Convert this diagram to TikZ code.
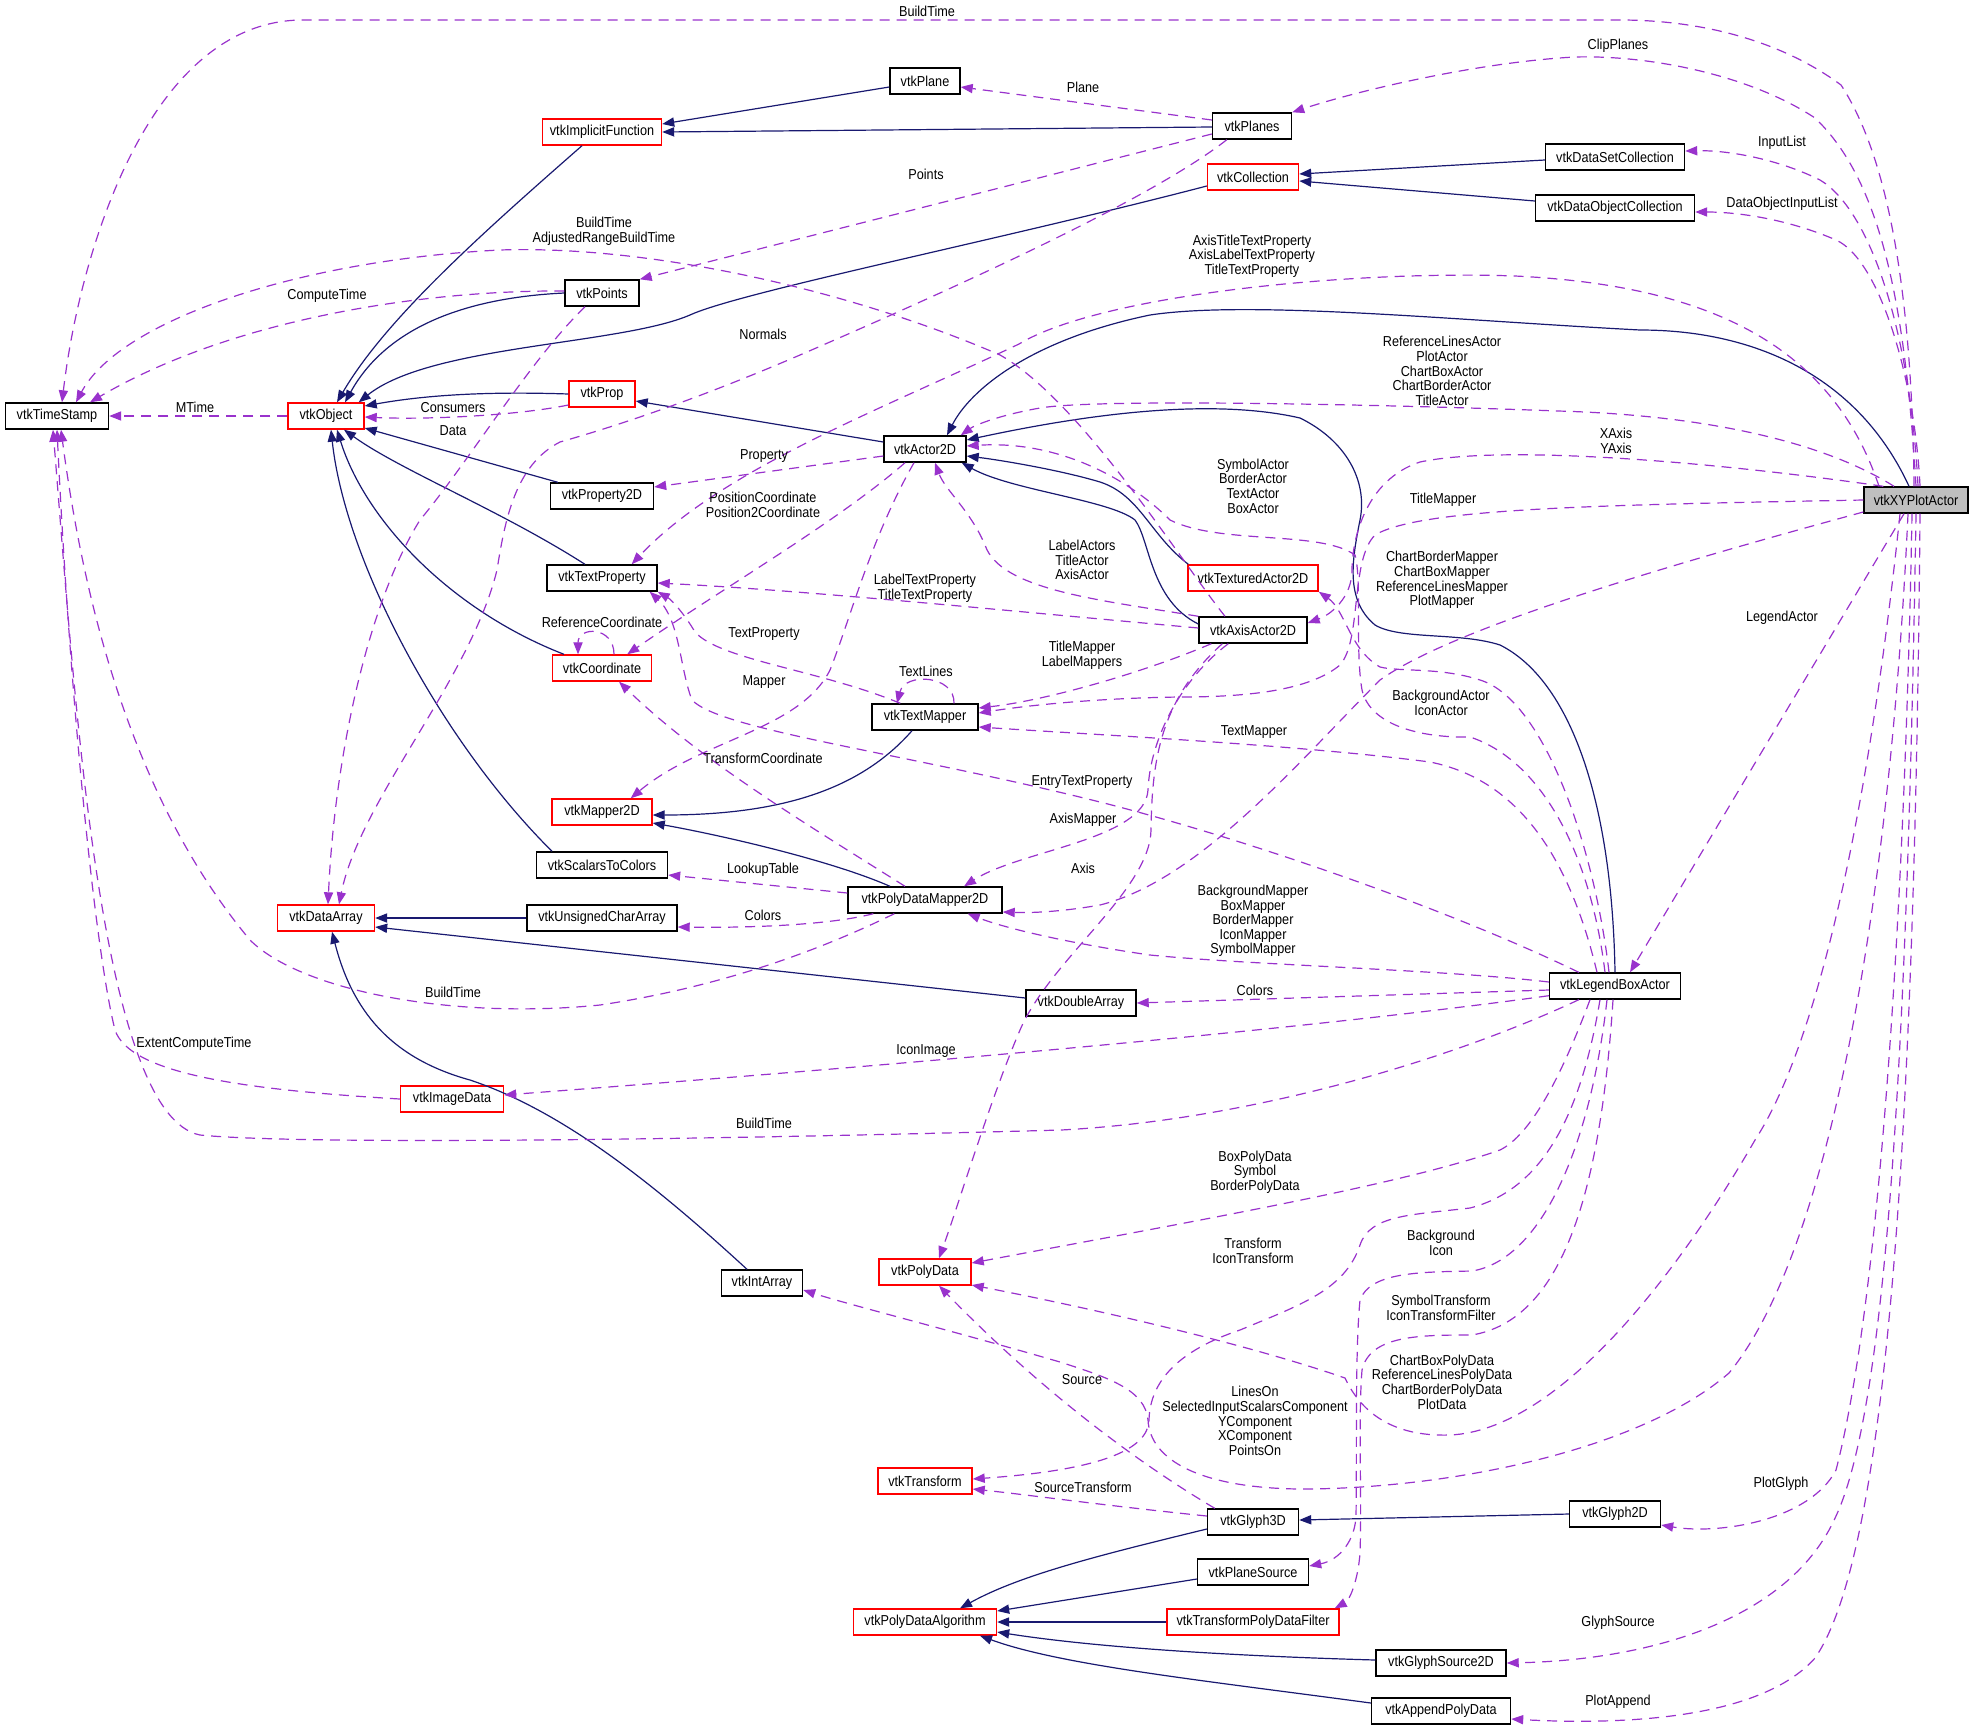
\documentclass[tikz,border=0pt]{standalone}
\usepackage{fontspec}
\newfontfamily\dfont[FakeStretch=0.88]{Liberation Sans}
\usetikzlibrary{arrows.meta,calc}
\definecolor{navy}{RGB}{25,25,112}
\definecolor{orch}{RGB}{153,50,204}
\definecolor{boxred}{RGB}{255,0,0}
\definecolor{xyfill}{RGB}{191,191,191}
\begin{document}
\begin{tikzpicture}[x=0.5pt,y=-0.5pt,
 cls/.style={draw=black,line width=0.7pt,fill=white,minimum height=13pt,inner xsep=1pt,inner ysep=0pt,font=\dfont\fontsize{7.2}{7.4}\selectfont},
 rcls/.style={cls,draw=boxred},
 lbl/.style={align=center,inner sep=0pt,font=\dfont\fontsize{7.2}{7.3}\selectfont},
 inh/.style={draw=navy,line width=0.6pt,-{Triangle[length=6pt,width=4.6pt]}},
 use/.style={draw=orch,line width=0.6pt,dash pattern=on 5pt off 3.5pt,-{Triangle[length=6pt,width=4.6pt]}}
]
\useasboundingbox (0,0) rectangle (1973,1729);
% nodes
\node[cls,minimum width=51.5pt] (ts) at (57,416) {vtkTimeStamp};
\node[rcls,minimum width=38pt] (obj) at (326,416) {vtkObject};
\node[rcls,minimum width=59.5pt] (impl) at (602,132) {vtkImplicitFunction};
\node[cls,minimum width=37pt] (pts) at (602,293) {vtkPoints};
\node[rcls,minimum width=33pt] (prop) at (602,394) {vtkProp};
\node[cls,minimum width=51.5pt] (prop2d) at (602,496) {vtkProperty2D};
\node[cls,minimum width=55pt] (tprop) at (602,578) {vtkTextProperty};
\node[cls,minimum width=35pt] (plane) at (925,81) {vtkPlane};
\node[cls,minimum width=39.5pt] (planes) at (1252,126) {vtkPlanes};
\node[rcls,minimum width=45.5pt] (coll) at (1253,177) {vtkCollection};
\node[cls,minimum width=41pt] (a2d) at (925,449) {vtkActor2D};
\node[rcls,minimum width=65pt] (tex) at (1253,578) {vtkTexturedActor2D};
\node[cls,minimum width=69.5pt] (dsc) at (1615,157) {vtkDataSetCollection};
\node[cls,minimum width=79.5pt] (doc) at (1615,208) {vtkDataObjectCollection};
\node[cls,fill=xyfill,minimum width=52pt] (xy) at (1916,500) {vtkXYPlotActor};
\node[rcls,minimum width=49.5pt] (coord) at (602,668) {vtkCoordinate};
\node[rcls,minimum width=50pt] (map2d) at (602,812) {vtkMapper2D};
\node[cls,minimum width=65.5pt] (s2c) at (602,865) {vtkScalarsToColors};
\node[rcls,minimum width=48.5pt] (da) at (326,918) {vtkDataArray};
\node[cls,minimum width=75pt] (ucar) at (602,918) {vtkUnsignedCharArray};
\node[rcls,minimum width=51.5pt] (img) at (452,1099) {vtkImageData};
\node[cls,minimum width=54pt] (axis) at (1253,630) {vtkAxisActor2D};
\node[cls,minimum width=53pt] (tmap) at (925,717) {vtkTextMapper};
\node[cls,minimum width=77pt] (pdm) at (925,900) {vtkPolyDataMapper2D};
\node[cls,minimum width=55pt] (dbl) at (1081,1003) {vtkDoubleArray};
\node[cls,minimum width=65.5pt] (leg) at (1615,986) {vtkLegendBoxActor};
\node[cls,minimum width=40.5pt] (iarr) at (762,1283) {vtkIntArray};
\node[rcls,minimum width=46pt] (pd) at (925,1272) {vtkPolyData};
\node[rcls,minimum width=47pt] (tr) at (925,1481) {vtkTransform};
\node[cls,minimum width=45.5pt] (g3d) at (1253,1522) {vtkGlyph3D};
\node[cls,minimum width=55.5pt] (psrc) at (1253,1572) {vtkPlaneSource};
\node[rcls,minimum width=71.5pt] (pda) at (925,1622) {vtkPolyDataAlgorithm};
\node[rcls,minimum width=86pt] (tpdf) at (1253,1622) {vtkTransformPolyDataFilter};
\node[cls,minimum width=45.5pt] (g2d) at (1615,1514) {vtkGlyph2D};
\node[cls,minimum width=65pt] (gs2d) at (1441,1663) {vtkGlyphSource2D};
\node[cls,minimum width=69.5pt] (app) at (1441,1711) {vtkAppendPolyData};
% inheritance
\draw[inh] ($(plane.west)+(0,6)$) -- ($(impl.east)+(0,-8)$);
\draw[inh] ($(planes.west)+(0,1)$) -- (impl.east);
\draw[inh] ($(impl.south)+(-20,0)$) .. controls (480,235) and (385,320) .. ($(obj.north)+(11,0)$);
\draw[inh] ($(dsc.west)+(0,3)$) -- ($(coll.east)+(0,-3)$);
\draw[inh] ($(doc.west)+(0,-7)$) -- ($(coll.east)+(0,4)$);
\draw[inh] ($(coll.west)+(0,9)$) .. controls (1000,240) and (740,292) .. (690,315) .. controls (620,345) and (430,345) .. ($(obj.north east)+(-6,0)$);
\draw[inh] (pts.west) .. controls (460,298) and (385,330) .. ($(obj.north)+(19,0)$);
\draw[inh] (prop.west) .. controls (480,391) and (420,396) .. ($(obj.east)+(0,-10)$);
\draw[inh] ($(prop2d.north west)+(8,0)$) -- ($(obj.east)+(0,12)$);
\draw[inh] ($(tprop.north)+(-17,0)$) .. controls (500,510) and (400,470) .. ($(obj.south)+(18,0)$);
\draw[inh] ($(coord.north)+(-38,0)$) .. controls (450,610) and (365,520) .. ($(obj.south)+(11,0)$);
\draw[inh] ($(s2c.north)+(-50,0)$) .. controls (440,740) and (345,560) .. ($(obj.south)+(5,0)$);
\draw[inh] ($(a2d.west)+(0,-7)$) -- ($(prop.east)+(0,7)$);
\draw[inh] ($(xy.north)+(-7,0)$) .. controls (1860,380) and (1760,330) .. (1640,330) .. controls (1450,320) and (1250,300) .. (1150,315) .. controls (1030,340) and (970,390) .. ($(a2d.north)+(22,0)$);
\draw[inh] (leg.north) .. controls (1612,800) and (1570,680) .. (1500,645) .. controls (1460,632) and (1400,640) .. (1375,625) .. controls (1345,600) and (1352,560) .. (1360,520) .. controls (1368,480) and (1345,440) .. (1300,418) .. controls (1200,395) and (1060,420) .. ($(a2d.east)+(0,-9)$);
\draw[inh] ($(tex.north west)+(1,0)$) .. controls (1150,535) and (1140,495) .. (1100,482) .. controls (1060,470) and (1000,460) .. ($(a2d.east)+(0,7)$);
\draw[inh] ($(axis.west)+(0,-6)$) .. controls (1150,600) and (1150,540) .. (1135,520) .. controls (1110,500) and (1010,490) .. ($(a2d.south east)+(-5,0)$);
\draw[inh] ($(tmap.south)+(-13,0)$) .. controls (860,790) and (780,815) .. ($(map2d.east)+(0,3)$);
\draw[inh] ($(pdm.north)+(-35,0)$) .. controls (830,860) and (720,835) .. ($(map2d.east)+(0,11)$);
\draw[inh] (ucar.west) -- (da.east);
\draw[inh] ($(dbl.west)+(0,-5)$) -- ($(da.east)+(0,9)$);
\draw[inh] ($(iarr.north)+(-15,0)$) .. controls (650,1180) and (560,1110) .. (470,1080) .. controls (390,1058) and (352,1010) .. ($(da.south)+(6,0)$);
\draw[inh] ($(g3d.west)+(0,7)$) .. controls (1100,1555) and (1020,1575) .. ($(pda.north)+(35,0)$);
\draw[inh] ($(psrc.west)+(0,7)$) -- ($(pda.east)+(0,-11)$);
\draw[inh] (tpdf.west) -- (pda.east);
\draw[inh] ($(gs2d.west)+(0,-3)$) .. controls (1200,1655) and (1080,1645) .. ($(pda.east)+(0,10)$);
\draw[inh] ($(app.west)+(0,-8)$) .. controls (1200,1680) and (1060,1665) .. ($(pda.south)+(55,0)$);
\draw[inh] (g2d.west) -- ($(g3d.east)+(0,-2)$);
% usage
\draw[use] ($(xy.north)+(-2,0)$) .. controls (1912,300) and (1890,160) .. (1841,85) .. controls (1780,40) and (1700,20) .. (1620,20) -- (303,20) .. controls (150,20) and (80,250) .. ($(ts.north)+(5,0)$);
\node[lbl] (l1) at (927,11) {BuildTime};
\draw[use] (xy.north) .. controls (1905,300) and (1880,180) .. (1815,118) .. controls (1750,75) and (1650,55) .. (1575,57) .. controls (1480,62) and (1360,90) .. (planes.north east);
\node[lbl] (l2) at (1618,46) {ClipPlanes};
\draw[use] ($(xy.north)+(2,0)$) .. controls (1910,330) and (1870,210) .. (1820,180) .. controls (1780,160) and (1730,150) .. ($(dsc.east)+(0,-6)$);
\node[lbl] (l3) at (1782,143) {InputList};
\draw[use] ($(xy.north)+(4,0)$) .. controls (1915,380) and (1880,260) .. (1836,240) .. controls (1790,220) and (1740,212) .. ($(doc.east)+(0,4)$);
\node[lbl] (l4) at (1782,204) {DataObjectInputList};
\draw[use] ($(xy.north)+(-37,0)$) .. controls (1830,340) and (1700,285) .. (1515,276) .. controls (1350,270) and (1100,295) .. (1019,344) .. controls (880,410) and (720,470) .. ($(tprop.north east)+(-26,0)$);
\node[lbl] (l5) at (1252,256) {AxisTitleTextProperty\\AxisLabelTextProperty\\TitleTextProperty};
\draw[use] ($(xy.north)+(-22,0)$) .. controls (1820,440) and (1700,415) .. (1558,411) .. controls (1400,405) and (1100,398) .. (1040,408) .. controls (1000,415) and (975,425) .. ($(a2d.north east)+(-6,0)$);
\node[lbl] (l6) at (1442,371) {ReferenceLinesActor\\PlotActor\\ChartBoxActor\\ChartBorderActor\\TitleActor};
\draw[use] ($(xy.north west)+(20,0)$) .. controls (1700,460) and (1500,445) .. (1420,462) .. controls (1365,480) and (1352,540) .. (1352,570) .. controls (1352,598) and (1330,615) .. ($(axis.east)+(0,-7)$);
\node[lbl] (l7) at (1616,441) {XAxis\\YAxis};
\draw[use] (xy.west) .. controls (1600,505) and (1420,508) .. (1375,535) .. controls (1350,560) and (1362,640) .. (1340,665) .. controls (1310,690) and (1250,697) .. (1180,697) .. controls (1100,698) and (1030,705) .. ($(tmap.east)+(0,-4)$);
\node[lbl] (l8) at (1443,500) {TitleMapper};
\draw[use] ($(xy.west)+(0,12)$) .. controls (1650,570) and (1450,630) .. (1380,680) .. controls (1300,760) and (1200,880) .. (1100,905) .. controls (1060,912) and (1030,913) .. ($(pdm.east)+(0,12)$);
\node[lbl] (l9) at (1442,580) {ChartBorderMapper\\ChartBoxMapper\\ReferenceLinesMapper\\PlotMapper};
\draw[use] ($(xy.south)+(-12,0)$) -- ($(leg.north)+(15,0)$);
\node[lbl] (l10) at (1782,618) {LegendActor};
\draw[use] ($(xy.south)+(-16,0)$) .. controls (1870,800) and (1820,1040) .. (1755,1140) .. controls (1680,1270) and (1560,1430) .. (1450,1435) .. controls (1390,1437) and (1360,1410) .. (1345,1378) .. controls (1250,1345) and (1100,1310) .. ($(pd.east)+(0,13)$);
\node[lbl] (l11) at (1442,1382) {ChartBoxPolyData\\ReferenceLinesPolyData\\ChartBorderPolyData\\PlotData};
\draw[use] ($(xy.south)+(-8,0)$) .. controls (1890,900) and (1830,1250) .. (1729,1373) .. controls (1640,1450) and (1450,1489) .. (1300,1489) .. controls (1200,1488) and (1150,1460) .. (1148,1420) .. controls (1145,1390) and (1110,1378) .. (1060,1362) .. controls (950,1330) and (850,1305) .. ($(iarr.east)+(0,7)$);
\node[lbl] (l12) at (1255,1421) {LinesOn\\SelectedInputScalarsComponent\\YComponent\\XComponent\\PointsOn};
\draw[use] ($(xy.south)+(-4,0)$) .. controls (1905,900) and (1880,1300) .. (1836,1470) .. controls (1810,1520) and (1720,1535) .. ($(g2d.east)+(0,11)$);
\node[lbl] (l13) at (1781,1484) {PlotGlyph};
\draw[use] (xy.south) .. controls (1908,1000) and (1890,1400) .. (1836,1516) .. controls (1790,1620) and (1650,1660) .. (gs2d.east);
\node[lbl] (l14) at (1618,1623) {GlyphSource};
\draw[use] ($(xy.south)+(4,0)$) .. controls (1915,1100) and (1890,1550) .. (1815,1658) .. controls (1760,1720) and (1620,1725) .. ($(app.east)+(0,8)$);
\node[lbl] (l15) at (1618,1702) {PlotAppend};
\draw[use] ($(planes.west)+(0,-6)$) -- ($(plane.east)+(0,6)$);
\node[lbl] (l16) at (1083,87) {Plane};
\draw[use] ($(planes.west)+(0,8)$) -- (pts.north east);
\node[lbl] (l17) at (926,174) {Points};
\draw[use] ($(planes.south west)+(15,0)$) .. controls (1150,200) and (950,290) .. (800,355) .. controls (700,398) and (620,425) .. (560,442) .. controls (515,465) and (505,520) .. (497,570) .. controls (470,680) and (360,800) .. ($(da.north)+(13,0)$);
\node[lbl] (l18) at (763,334) {Normals};
\draw[use] ($(axis.north)+(-28,0)$) .. controls (1180,560) and (1080,400) .. (1000,355) .. controls (850,290) and (650,245) .. (500,250) .. controls (300,260) and (120,320) .. ($(ts.north)+(19,0)$);
\node[lbl] (l19) at (604,231) {BuildTime\\AdjustedRangeBuildTime};
\draw[use] ($(pts.west)+(0,-2)$) .. controls (420,290) and (230,320) .. ($(ts.north)+(33,0)$);
\node[lbl] (l20) at (327,296) {ComputeTime};
\draw[use] ($(pts.south)+(-17,0)$) .. controls (530,360) and (470,460) .. (420,520) .. controls (370,600) and (335,750) .. ($(da.north)+(2,0)$);
\node[lbl] (l21) at (453,431) {Data};
\draw[use] (obj.west) -- (ts.east);
\node[lbl] (l22) at (195,407) {MTime};
\draw[use] ($(prop.west)+(0,11)$) .. controls (520,415) and (430,420) .. ($(obj.east)+(0,1)$);
\node[lbl] (l23) at (453,408) {Consumers};
\draw[use] ($(a2d.west)+(0,7)$) -- ($(prop2d.east)+(0,-9)$);
\node[lbl] (l24) at (764,456) {Property};
\draw[use] ($(a2d.south)+(-20,0)$) .. controls (840,520) and (720,590) .. ($(coord.north east)+(-25,0)$);
\node[lbl] (l25) at (763,505) {PositionCoordinate\\Position2Coordinate};
\draw[use] ($(a2d.south)+(-11,0)$) .. controls (870,540) and (850,620) .. (830,670) .. controls (800,730) and (700,740) .. ($(map2d.north east)+(-22,0)$);
\node[lbl] (l26) at (764,682) {Mapper};
\draw[use] ($(coord.north)+(12,0)$) .. controls (614,626) and (578,626) .. ($(coord.north)+(-24,0)$);
\node[lbl] (l27) at (602,622) {ReferenceCoordinate};
\draw[use] ($(tmap.north west)+(29,0)$) .. controls (820,670) and (720,660) .. (695,632) .. controls (685,615) and (672,600) .. (tprop.south east);
\node[lbl] (l28) at (764,634) {TextProperty};
\draw[use] ($(tmap.north)+(29,0)$) .. controls (955,675) and (905,672) .. ($(tmap.north)+(-28,0)$);
\node[lbl] (l29) at (926,671) {TextLines};
\draw[use] ($(axis.west)+(0,-2)$) .. controls (1000,610) and (800,590) .. ($(tprop.east)+(0,5)$);
\node[lbl] (l30) at (925,588) {LabelTextProperty\\TitleTextProperty};
\draw[use] (axis.north west) .. controls (1100,600) and (1000,590) .. (985,545) .. controls (970,510) and (945,490) .. ($(a2d.south)+(10,0)$);
\node[lbl] (l31) at (1082,560) {LabelActors\\TitleActor\\AxisActor};
\draw[use] ($(axis.south west)+(13,0)$) .. controls (1150,670) and (1050,700) .. ($(tmap.east)+(0,-9)$);
\node[lbl] (l32) at (1082,655) {TitleMapper\\LabelMappers};
\draw[use] ($(axis.south west)+(30,0)$) .. controls (1180,680) and (1150,740) .. (1148,790) .. controls (1145,840) and (1020,850) .. ($(pdm.north)+(39,0)$);
\node[lbl] (l33) at (1083,820) {AxisMapper};
\draw[use] ($(axis.south west)+(24,0)$) .. controls (1160,700) and (1152,760) .. (1151,830) .. controls (1150,890) and (1050,960) .. (1020,1030) .. controls (990,1100) and (960,1200) .. ($(pd.north)+(14,0)$);
\node[lbl] (l34) at (1083,868) {Axis};
\draw[use] ($(pdm.north)+(-20,0)$) .. controls (800,820) and (700,760) .. ($(coord.south)+(17,0)$);
\node[lbl] (l35) at (763,758) {TransformCoordinate};
\draw[use] ($(pdm.west)+(0,-7)$) -- ($(s2c.east)+(0,10)$);
\node[lbl] (l36) at (763,870) {LookupTable};
\draw[use] ($(pdm.south west)+(26,0)$) .. controls (830,925) and (750,928) .. ($(ucar.east)+(0,9)$);
\node[lbl] (l37) at (763,915) {Colors};
\draw[use] ($(pdm.south west)+(47,0)$) .. controls (800,960) and (700,990) .. (600,1005) .. controls (450,1020) and (300,990) .. (250,940) .. controls (150,820) and (90,650) .. ($(ts.south)+(4,0)$);
\node[lbl] (l38) at (453,992) {BuildTime};
\draw[use] ($(leg.north)+(-10,0)$) .. controls (1590,850) and (1540,760) .. (1470,737) .. controls (1420,738) and (1370,725) .. (1362,690) .. controls (1355,650) and (1362,580) .. (1355,555) .. controls (1320,530) and (1220,545) .. (1170,520) .. controls (1130,480) and (1060,440) .. ($(a2d.east)+(0,-3)$);
\node[lbl] (l39) at (1253,486) {SymbolActor\\BorderActor\\TextActor\\BoxActor};
\draw[use] ($(leg.north)+(-6,0)$) .. controls (1595,850) and (1545,700) .. (1480,680) .. controls (1440,667) and (1400,672) .. (1380,667) .. controls (1350,650) and (1345,610) .. (tex.south east);
\node[lbl] (l40) at (1441,703) {BackgroundActor\\IconActor};
\draw[use] ($(leg.north)+(-18,0)$) .. controls (1570,860) and (1520,780) .. (1430,762) .. controls (1300,745) and (1100,735) .. ($(tmap.east)+(0,10)$);
\node[lbl] (l41) at (1254,732) {TextMapper};
\draw[use] ($(leg.north west)+(30,0)$) .. controls (1450,910) and (1250,840) .. (1100,802) .. controls (900,752) and (720,730) .. (692,700) .. controls (680,670) and (680,620) .. ($(tprop.south east)+(-8,0)$);
\node[lbl] (l42) at (1082,782) {EntryTextProperty};
\draw[use] ($(leg.west)+(0,-4)$) .. controls (1450,970) and (1250,965) .. (1150,955) .. controls (1080,945) and (1010,930) .. ($(pdm.south east)+(-35,0)$);
\node[lbl] (l43) at (1253,921) {BackgroundMapper\\BoxMapper\\BorderMapper\\IconMapper\\SymbolMapper};
\draw[use] ($(leg.west)+(0,4)$) -- (dbl.east);
\node[lbl] (l44) at (1255,990) {Colors};
\draw[use] ($(leg.south west)+(0,-4)$) .. controls (1300,1030) and (900,1065) .. ($(img.east)+(0,-4)$);
\node[lbl] (l45) at (926,1051) {IconImage};
\draw[use] ($(leg.south west)+(30,0)$) .. controls (1450,1060) and (1250,1120) .. (1061,1130) .. controls (700,1140) and (300,1145) .. (200,1135) .. controls (100,1115) and (75,700) .. ($(ts.south)+(-4,0)$);
\node[lbl] (l46) at (764,1123) {BuildTime};
\draw[use] (img.west) .. controls (250,1090) and (130,1075) .. (115,1030) .. controls (95,950) and (70,700) .. (ts.south);
\node[lbl] (l47) at (194,1044) {ExtentComputeTime};
\draw[use] ($(leg.south)+(-25,0)$) .. controls (1560,1080) and (1530,1135) .. (1500,1150) .. controls (1400,1185) and (1200,1220) .. ($(pd.east)+(0,-9)$);
\node[lbl] (l48) at (1255,1172) {BoxPolyData\\Symbol\\BorderPolyData};
\draw[use] ($(leg.south)+(-15,0)$) .. controls (1580,1120) and (1540,1190) .. (1470,1208) .. controls (1410,1215) and (1370,1215) .. (1360,1245) .. controls (1345,1290) and (1300,1305) .. (1240,1330) .. controls (1180,1350) and (1150,1380) .. (1149,1420) .. controls (1148,1450) and (1100,1470) .. ($(tr.east)+(0,-2)$);
\node[lbl] (l49) at (1253,1251) {Transform\\IconTransform};
\draw[use] ($(leg.south)+(-8,0)$) .. controls (1590,1150) and (1540,1260) .. (1472,1271) .. controls (1420,1272) and (1370,1272) .. (1360,1300) .. controls (1355,1350) and (1357,1450) .. (1356,1516) .. controls (1355,1540) and (1340,1560) .. ($(psrc.east)+(0,-6)$);
\node[lbl] (l50) at (1441,1243) {Background\\Icon};
\draw[use] ($(leg.south)+(-2,0)$) .. controls (1600,1200) and (1560,1320) .. (1472,1335) .. controls (1420,1335) and (1370,1335) .. (1362,1370) .. controls (1358,1420) and (1362,1500) .. (1360,1553) .. controls (1358,1580) and (1350,1600) .. ($(tpdf.north east)+(-5,0)$);
\node[lbl] (l51) at (1441,1308) {SymbolTransform\\IconTransformFilter};
\draw[use] ($(g3d.north west)+(8,0)$) .. controls (1150,1470) and (1050,1400) .. ($(pd.south)+(14,0)$);
\node[lbl] (l52) at (1082,1380) {Source};
\draw[use] ($(g3d.west)+(0,-6)$) .. controls (1100,1505) and (1030,1495) .. ($(tr.east)+(0,8)$);
\node[lbl] (l53) at (1083,1487) {SourceTransform};
\end{tikzpicture}
\end{document}
